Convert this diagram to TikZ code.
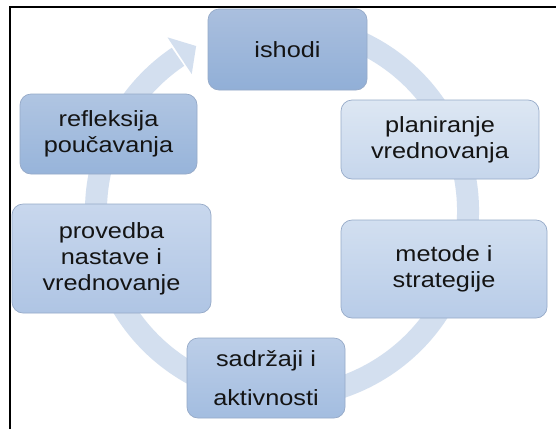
\documentclass[tikz,border=0pt]{standalone}
\usepackage{fontspec}
\setmainfont{Liberation Sans}[FakeStretch=1.15]
\usetikzlibrary{calc}
\definecolor{ringc}{RGB}{211,223,239}
\definecolor{boxline}{RGB}{150,170,200}
\definecolor{aT}{RGB}{170,191,222}
\definecolor{aB}{RGB}{145,175,215}
\definecolor{bT}{RGB}{221,231,243}
\definecolor{bB}{RGB}{198,214,236}
\definecolor{cT}{RGB}{210,223,240}
\definecolor{cB}{RGB}{184,204,232}
\definecolor{dT}{RGB}{188,206,232}
\definecolor{dB}{RGB}{163,189,224}
\definecolor{eT}{RGB}{200,215,237}
\definecolor{eB}{RGB}{175,197,228}
\definecolor{fT}{RGB}{176,197,226}
\definecolor{fB}{RGB}{151,180,218}
\tikzset{
  box/.style={draw=boxline, line width=0.7pt, rounded corners=11pt, align=center,
    inner sep=0pt, font=\fontsize{22}{26}\selectfont, text=black!92},
  ringline/.style={draw=ringc, line width=22pt},
}
\begin{document}
\begin{tikzpicture}[x=1pt,y=1pt]
\useasboundingbox (0,0) rectangle (556,-429);
\fill[white] (0,0) rectangle (556,-429);
\coordinate (C) at (282,-211);
% ring arrow
\draw[ringline] ($(C)+(75:186)$) arc[start angle=75, end angle=-236, radius=186];
\fill[ringc] ($(C)+(123.4:208)$) -- ($(C)+(117.5:186)$) -- ($(C)+(123.4:164)$) -- cycle;
% boxes
\node[box, minimum width=159pt, minimum height=81pt, top color=aT, bottom color=aB] (ishodi) at (287.5,-49.5) {ishodi};
\node[box, minimum width=198pt, minimum height=79pt, top color=bT, bottom color=bB] (plan) at (440,-139.5) {planiranje\\vrednovanja};
\node[box, minimum width=206pt, minimum height=98pt, top color=cT, bottom color=cB] (metode) at (444,-269) {metode i\\strategije};
\node[box, minimum width=158pt, minimum height=80pt, top color=dT, bottom color=dB] (sadrzaji) at (266,-378) {sadržaji i\\[13pt]aktivnosti};
\node[box, minimum width=199pt, minimum height=109pt, top color=eT, bottom color=eB] (provedba) at (111.5,-258.5) {provedba\\nastave i\\vrednovanje};
\node[box, minimum width=177pt, minimum height=80pt, top color=fT, bottom color=fB] (refl) at (108.5,-134) {refleksija\\poučavanja};
% frame
\draw[line width=2pt] (10,-429) -- (10,-7) -- (556,-7);
\end{tikzpicture}
\end{document}
